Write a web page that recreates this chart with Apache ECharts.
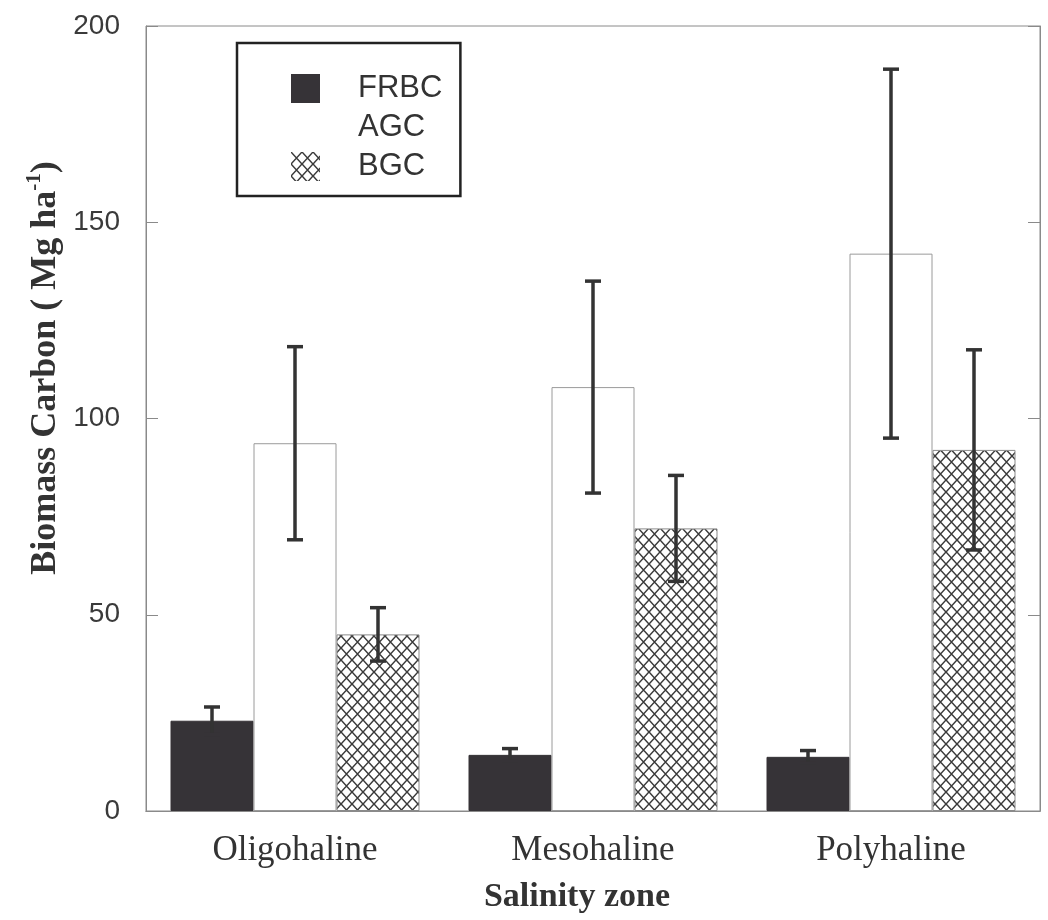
<!DOCTYPE html>
<html>
<head>
<meta charset="utf-8">
<script src="https://cdn.jsdelivr.net/npm/echarts@6/dist/echarts.min.js"></script>
<style>
html,body{margin:0;padding:0;background:#fff;}
#chart{width:1048px;height:920px;}
</style>
</head>
<body>
<div id="chart"></div>
<script>
// ---- data ----
const categories = ['Oligohaline', 'Mesohaline', 'Polyhaline'];
const seriesNames = ['FRBC', 'AGC', 'BGC'];
const frbc = [23, 14.3, 13.8];
const frbcErr = [3.5, 1.6, 1.6];
const agc = [93.7, 108, 142];
const agcErr = [24.6, 27, 47];
const bgc = [45, 72, 92];
const bgcErr = [6.8, 13.5, 25.5];
const yTicks = [0, 50, 100, 150, 200];

// crosshatch pattern
function makeHatch() {
  const w = 11, h = 12;
  const c = document.createElement('canvas');
  c.width = w; c.height = h;
  const ctx = c.getContext('2d');
  ctx.fillStyle = '#ffffff';
  ctx.fillRect(0, 0, w, h);
  ctx.strokeStyle = '#3a3a3a';
  ctx.lineWidth = 1.5;
  ctx.beginPath();
  ctx.moveTo(0, 0); ctx.lineTo(w, h);
  ctx.moveTo(w, 0); ctx.lineTo(0, h);
  ctx.stroke();
  return c;
}
const hatch = { image: makeHatch(), repeat: 'repeat' };

const BAR_W = 83;
const errData = [];
[[frbc, frbcErr], [agc, agcErr], [bgc, bgcErr]].forEach(function (pair, s) {
  pair[0].forEach(function (v, i) { errData.push([i, v, pair[1][i], s]); });
});

const chart = echarts.init(document.getElementById('chart'));
const frame = '#8a8a8a';
const dark = '#363337';
const option = {
  backgroundColor: '#ffffff',
  animation: false,
  grid: { left: 146, right: 8, top: 26, bottom: 109, show: true, borderColor: frame, borderWidth: 1, backgroundColor: 'transparent' },
  legend: {
    orient: 'vertical', left: 237, top: 43,
    padding: [30, 18, 14, 54],
    itemWidth: 29, itemHeight: 29, itemGap: 8,
    borderColor: '#222', borderWidth: 2.5,
    icon: 'rect',
    textStyle: { fontFamily: 'Liberation Sans', fontSize: 31, color: '#333', padding: [0, 0, 0, 33], lineHeight: 29 },
    data: [
      { name: 'FRBC', itemStyle: { color: dark, borderWidth: 0 } },
      { name: 'AGC', itemStyle: { color: '#ffffff', borderWidth: 0, opacity: 0 } },
      { name: 'BGC', itemStyle: { color: hatch, borderWidth: 0 } }
    ]
  },
  xAxis: [{
    type: 'category', data: categories, position: 'bottom',
    axisLine: { lineStyle: { color: frame, width: 1 } },
    axisTick: { inside: true, length: 12, lineStyle: { color: frame } },
    axisLabel: { fontFamily: 'Liberation Serif', fontSize: 35, color: '#333', margin: 22 }
  }, {
    type: 'category', data: categories, position: 'top',
    axisLine: { lineStyle: { color: frame, width: 1 } },
    axisTick: { inside: true, length: 14, lineStyle: { color: frame } },
    axisLabel: { show: false }
  }],
  yAxis: [{
    type: 'value', min: 0, max: 200, interval: 50, position: 'left',
    axisLine: { show: true, lineStyle: { color: frame, width: 1 } },
    axisTick: { show: true, inside: true, length: 12, lineStyle: { color: frame } },
    splitLine: { show: false },
    axisLabel: { fontFamily: 'Liberation Sans', fontSize: 28, color: '#3a3a3a', margin: 26,
      formatter: function (v) { return yTicks.indexOf(v) >= 0 ? String(v) : ''; } }
  }, {
    type: 'value', min: 0, max: 200, interval: 50, position: 'right',
    axisLine: { show: true, lineStyle: { color: frame, width: 1 } },
    axisTick: { show: true, inside: true, length: 12, lineStyle: { color: frame } },
    splitLine: { show: false },
    axisLabel: { show: false }
  }],
  series: [
    { name: 'FRBC', type: 'bar', data: frbc, barWidth: BAR_W, barGap: '0%',
      itemStyle: { color: dark, borderColor: dark, borderWidth: 1 } },
    { name: 'AGC', type: 'bar', data: agc, barWidth: BAR_W, barGap: '0%',
      itemStyle: { color: '#ffffff', borderColor: '#9a9a9a', borderWidth: 1 } },
    { name: 'BGC', type: 'bar', data: bgc, barWidth: BAR_W, barGap: '0%',
      itemStyle: { color: hatch, borderColor: '#8a8a8a', borderWidth: 1 } },
    { name: 'err', type: 'custom', data: errData, z: 10,
      renderItem: function (params, api) {
        const cat = api.value(0), v = api.value(1), e = api.value(2), s = api.value(3);
        const off = (s - 1) * BAR_W;
        const top = api.coord([cat, v + e]);
        const bot = api.coord([cat, v - e]);
        const x = top[0] + off;
        const cap = 8;
        const st = { stroke: '#333', lineWidth: 3.5 };
        return { type: 'group', children: [
          { type: 'line', shape: { x1: x, y1: top[1], x2: x, y2: bot[1] }, style: st },
          { type: 'line', shape: { x1: x - cap, y1: top[1], x2: x + cap, y2: top[1] }, style: st },
          { type: 'line', shape: { x1: x - cap, y1: bot[1], x2: x + cap, y2: bot[1] }, style: s === 0 ? { stroke: dark, lineWidth: 3.5 } : st }
        ] };
      }
    }
  ],
  graphic: [
    { type: 'text', x: 46, y: 368, rotation: Math.PI / 2,
      style: {
        text: '{a|Biomass Carbon ( Mg ha}{s|-1}{a|)}',
        rich: {
          a: { fontFamily: 'Liberation Serif', fontWeight: 'bold', fontSize: 36, fill: '#333', lineHeight: 40 },
          s: { fontFamily: 'Liberation Serif', fontWeight: 'bold', fontSize: 21, fill: '#333', lineHeight: 40, padding: [0, 0, 22, 0] }
        },
        align: 'center', verticalAlign: 'middle'
      } },
    { type: 'text', x: 577, y: 897,
      style: { text: 'Salinity zone', fontFamily: 'Liberation Serif', fontWeight: 'bold', fontSize: 34, fill: '#333', align: 'center', verticalAlign: 'middle' } }
  ]
};
chart.setOption(option);
</script>
</body>
</html>
